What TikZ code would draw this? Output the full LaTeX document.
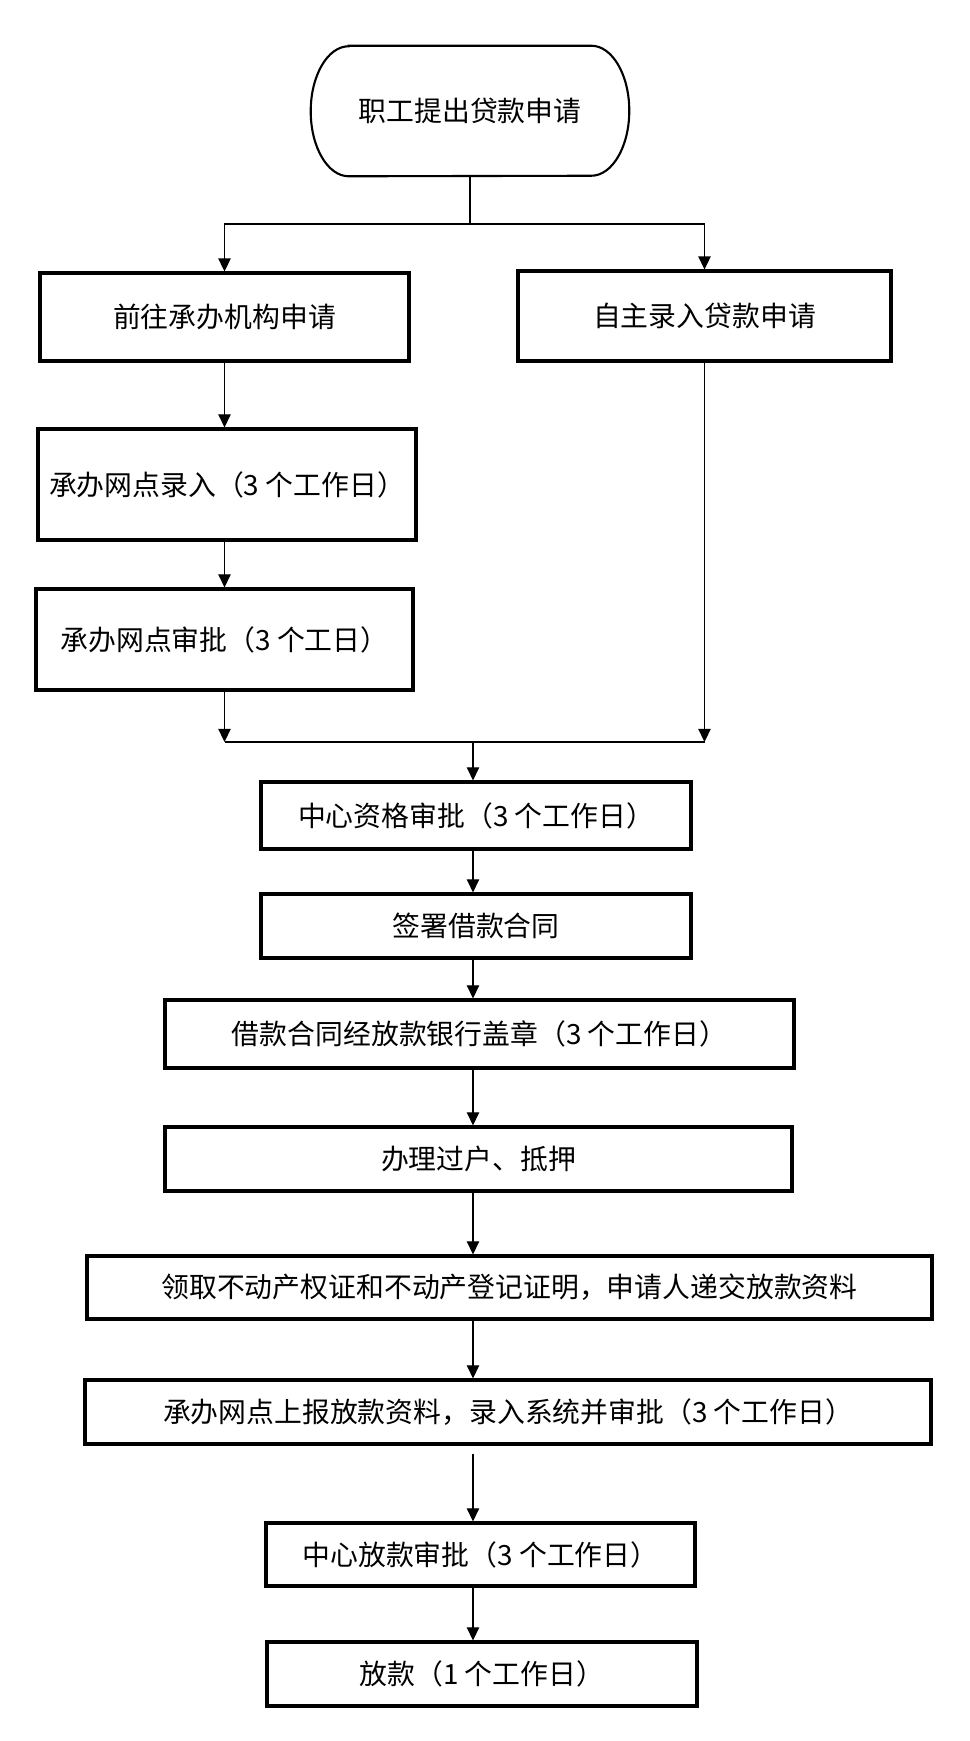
\documentclass[tikz,border=0pt]{standalone}
\usepackage{fontspec}
\setmainfont{Noto Sans CJK SC}
\usetikzlibrary{arrows.meta}

\begin{document}
\begin{tikzpicture}[x=0.025cm,y=-0.025cm,
  box/.style 2 args={draw,line width=2.2pt,minimum width=#1*0.025cm,minimum height=#2*0.025cm,inner sep=0pt,font=\fontsize{19.8}{23}\selectfont},
  arr/.style={-{Triangle[length=0.33cm,width=0.31cm]},line width=1pt},
  link/.style={line width=1pt}]
\useasboundingbox (0,0) rectangle (969,1741);
% start
\node[minimum width=318*0.025cm,minimum height=130*0.025cm,inner sep=0pt,font=\fontsize{19.8}{23}\selectfont] (start) at (470,111) {职工提出贷款申请};
\draw[line width=1.5pt] ([xshift=0.95cm]start.north west) -- ([xshift=-0.95cm]start.north east)
  arc[start angle=90,end angle=-90,x radius=0.95cm,y radius=1.625cm]
  -- ([xshift=0.95cm]start.south west)
  arc[start angle=270,end angle=90,x radius=0.95cm,y radius=1.625cm] -- cycle;
% two ways to apply
\node[box={369}{88}] (goorg) at (224.5,317) {前往承办机构申请};
\node[box={373}{90}] (self) at (704.5,316) {自主录入贷款申请};
\node[box={378}{111}] (entry) at (227,484.5) {承办网点录入（3 个工作日）};
\node[box={377}{101}] (review) at (224.5,639.5) {承办网点审批（3 个工日）};
% main column
\node[box={430}{67}] (center1) at (476,815.5) {中心资格审批（3 个工作日）};
\node[box={430}{64}] (sign) at (476,926) {签署借款合同};
\node[box={629}{68}] (stamp) at (479.5,1034) {借款合同经放款银行盖章（3 个工作日）};
\node[box={627}{64}] (transfer) at (478.5,1159) {办理过户、抵押};
\node[box={845}{63}] (collect) at (509.5,1287.5) {领取不动产权证和不动产登记证明，申请人递交放款资料};
\node[box={846}{64}] (report) at (508,1412) {承办网点上报放款资料，录入系统并审批（3 个工作日）};
\node[box={429}{63}] (center2) at (480.5,1554.5) {中心放款审批（3 个工作日）};
\node[box={430}{64}] (loan) at (482,1674) {放款（1 个工作日）};
\coordinate (fork) at (470,224);
\coordinate (join) at (473,742);
% connectors
\draw[link] (start.south -| fork) -- (fork);
\draw[arr,line width=1.3pt] (fork) -| (goorg.north);
\draw[arr,line width=1.3pt] (fork) -| (self.north);
\draw[arr] (goorg.south) -- (goorg.south |- entry.north);
\draw[arr] (entry.south -| goorg) -- (review.north -| goorg);
\draw[arr] (review.south) -- (review.south |- join);
\draw[arr] (self.south) -- (self.south |- join);
\draw[link,line width=1.3pt] (review.south |- join) -- (self.south |- join);
\draw[arr] (join) -- (center1.north -| join);
\draw[arr] (center1.south -| join) -- (sign.north -| join);
\draw[arr] (sign.south -| join) -- (stamp.north -| join);
\draw[arr] (stamp.south -| join) -- (transfer.north -| join);
\draw[arr] (transfer.south -| join) -- (collect.north -| join);
\draw[arr] (collect.south -| join) -- (report.north -| join);
\draw[arr,shorten <=0.2cm] (report.south -| join) -- (center2.north -| join);
\draw[arr] (center2.south -| join) -- (loan.north -| join);
\end{tikzpicture}
\end{document}
